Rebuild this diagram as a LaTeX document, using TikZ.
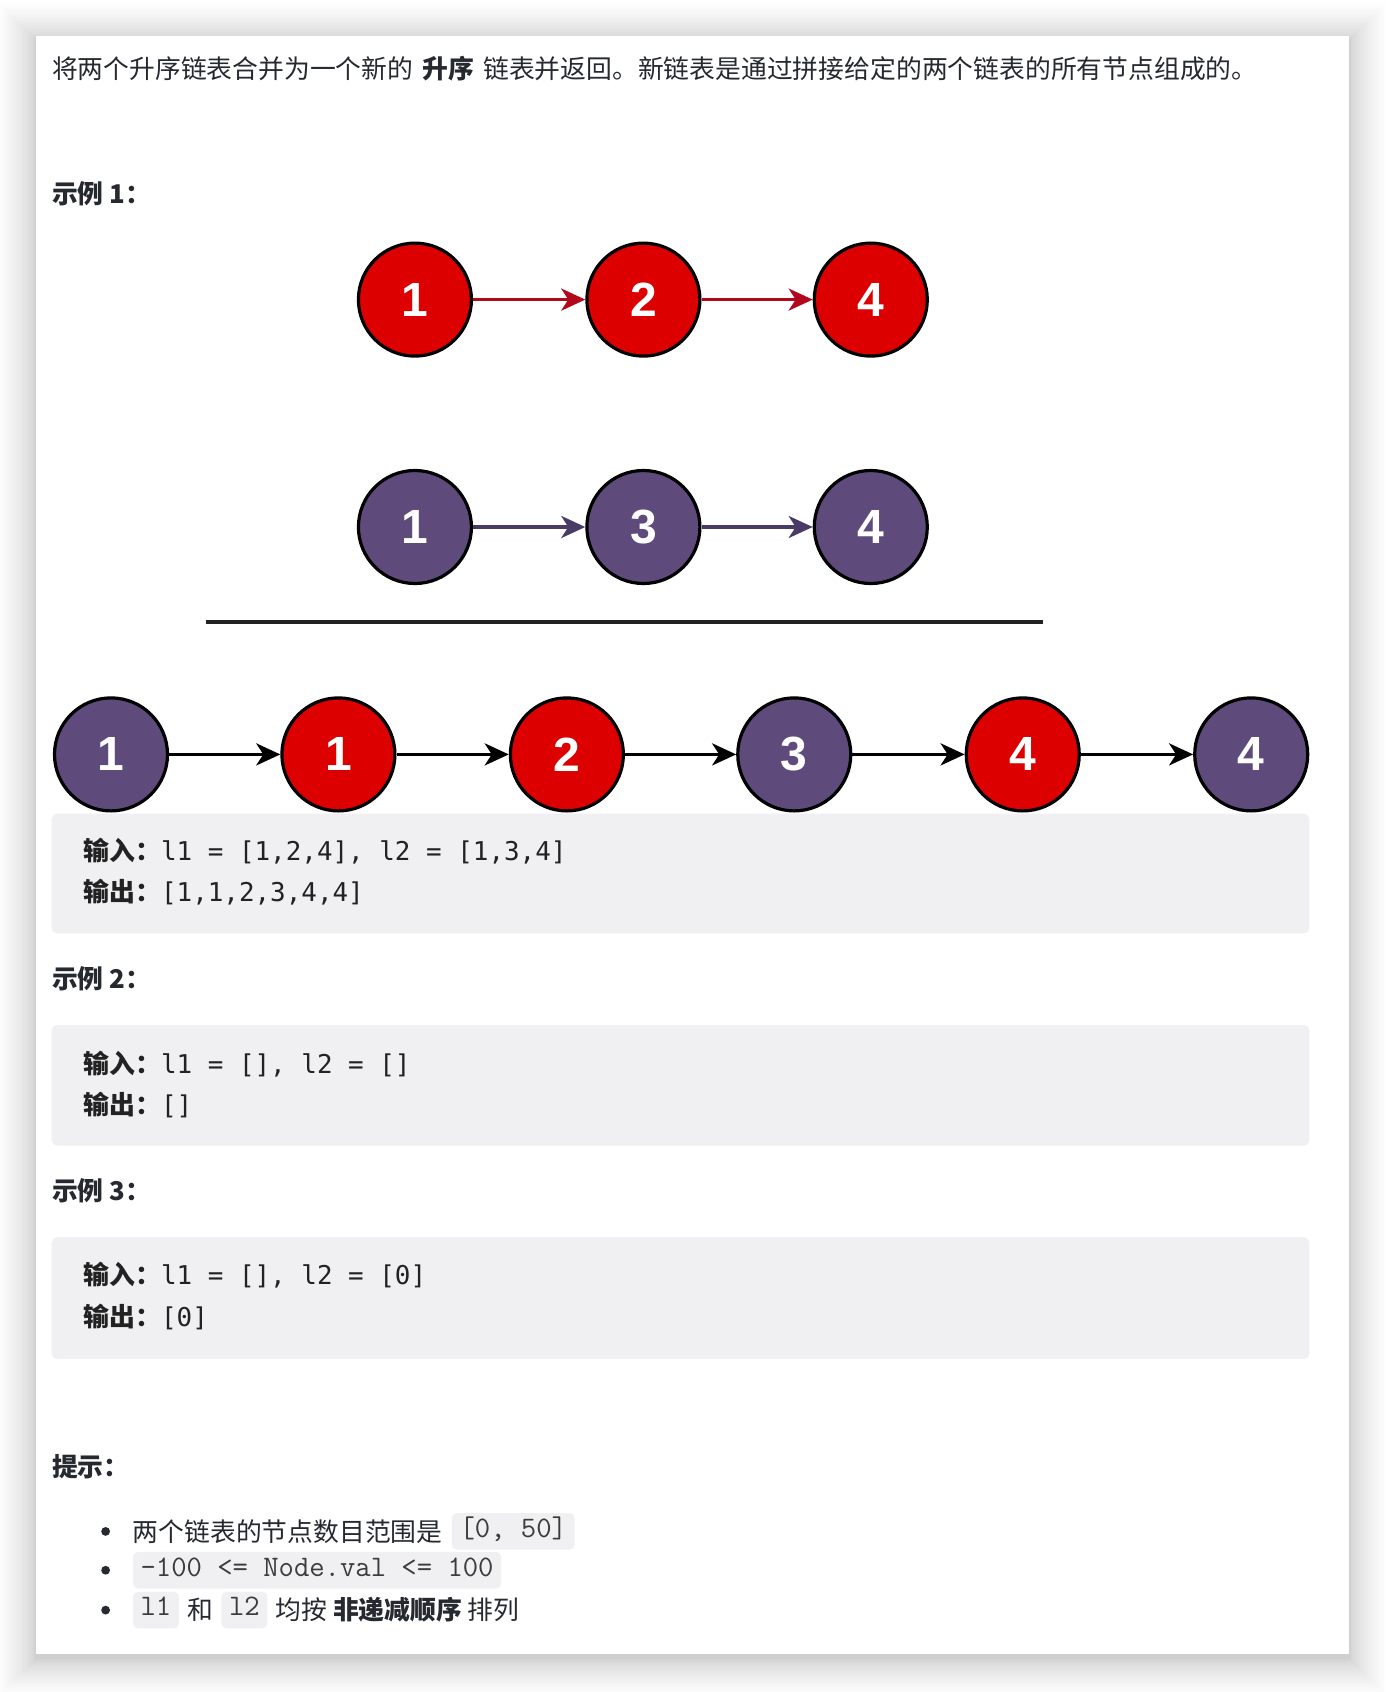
\documentclass[tikz,border=0pt]{standalone}
\usepackage{fontspec}
\setmainfont{Noto Sans CJK SC}
\newfontfamily\codefont{DejaVu Sans Mono}
\newfontfamily\numfont{Liberation Sans}
\usetikzlibrary{arrows.meta}
\definecolor{txt}{HTML}{262A30}
\definecolor{codetxt}{HTML}{222222}
\definecolor{icodetxt}{HTML}{3C3C3C}
\definecolor{codebg}{HTML}{F0F0F2}
\definecolor{nred}{HTML}{DD0000}
\definecolor{npur}{HTML}{5F4B7B}
\definecolor{ared}{HTML}{B3081B}
\definecolor{apur}{HTML}{4A3A66}
\definecolor{rule}{HTML}{222222}
\begin{document}
\begin{tikzpicture}[x=0.5388pt,y=-0.5388pt,
  body/.style={anchor=west, inner sep=0pt, text=txt, font=\fontsize{12.9pt}{15pt}\selectfont},
  head/.style={anchor=west, inner sep=0pt, text=txt, font=\fontsize{12.9pt}{15pt}\selectfont\bfseries},
  codetxt/.style={anchor=west, inner sep=0pt, text=codetxt, font=\fontsize{12.95pt}{15pt}\selectfont},
  icode/.style={anchor=west, fill=codebg, rounded corners=2.5pt, inner xsep=3.8pt, inner ysep=0pt,
    minimum height=18.3pt, text height=8.4pt, text depth=2.6pt, text=icodetxt,
    font=\ttfamily\fontsize{14.9pt}{16pt}\selectfont},
  lln/.style={circle, draw=black, line width=1.6pt, minimum size=56.5pt, inner sep=0pt, text=white,
    font=\numfont\bfseries\fontsize{24pt}{24pt}\selectfont},
  rn/.style={lln, fill=nred},
  pn/.style={lln, fill=npur},
  arr/.style={line width=1.7pt, -{Stealth[length=12pt,width=11pt,inset=3.5pt]}},
]
\useasboundingbox (0,0) rectangle (1288,1570);
\fill[white] (0,0) rectangle (1288,1570);
% soft shadow of the card
\foreach \i in {1,...,24} {
  \pgfmathsetmacro\dd{34*(\i/24)^1.6}
  \fill[black, opacity=0.009] ({33-\dd},{37-\dd}) rectangle ({1252+\dd},{1539+\dd});
}
\fill[white] (33,33) rectangle (1252,1535);

% intro
\node[body] (intro) at (48,64) {将两个升序链表合并为一个新的\hspace{4.6pt}\textbf{升序}\hspace{4.6pt}链表并返回。新链表是通过拼接给定的两个链表的所有节点组成的。};
\node[head] (ex1) at (48,180) {示例 1：};

% diagram
\begin{scope}
\clip (40,200) rectangle (1215,754);
\node[rn] (r1) at (385,278) {1};
\node[rn] (r2) at (597,278) {2};
\node[rn] (r3) at (808,278) {4};
\draw[arr, ared] (r1) -- (r2);
\draw[arr, ared] (r2) -- (r3);
\node[pn] (p1) at (385,489) {1};
\node[pn] (p2) at (597,489) {3};
\node[pn] (p3) at (808,489) {4};
\draw[arr, apur] (p1) -- (p2);
\draw[arr, apur] (p2) -- (p3);
\coordinate (ls) at (191,577);
\coordinate (le) at (968,577);
\draw[rule, line width=2.1pt] (ls) -- (le);
\node[pn] (m1) at (103,700) {1};
\node[rn] (m2) at (314,700) {1};
\node[rn] (m3) at (526,700) {2};
\node[pn] (m4) at (737,700) {3};
\node[rn] (m5) at (949,700) {4};
\node[pn] (m6) at (1161,700) {4};
\draw[arr] (m1) -- (m2);
\draw[arr] (m2) -- (m3);
\draw[arr] (m3) -- (m4);
\draw[arr] (m4) -- (m5);
\draw[arr] (m5) -- (m6);
\end{scope}

% code block 1
\fill[codebg, rounded corners=2.7pt] (48,755) rectangle (1215,866);
\node[codetxt] (c1a) at (77,790) {\textbf{输入：}{\codefont l1 = [1,2,4], l2 = [1,3,4]}};
\node[codetxt] (c1b) at (77,828) {\textbf{输出：}{\codefont [1,1,2,3,4,4]}};

\node[head] (ex2) at (48,908) {示例 2：};
\fill[codebg, rounded corners=2.7pt] (48,951) rectangle (1215,1063);
\node[codetxt] (c2a) at (77,987) {\textbf{输入：}{\codefont l1 = [], l2 = []}};
\node[codetxt] (c2b) at (77,1025) {\textbf{输出：}{\codefont []}};

\node[head] (ex3) at (48,1105) {示例 3：};
\fill[codebg, rounded corners=2.7pt] (48,1148) rectangle (1215,1261);
\node[codetxt] (c3a) at (77,1183) {\textbf{输入：}{\codefont l1 = [], l2 = [0]}};
\node[codetxt] (c3b) at (77,1222) {\textbf{输出：}{\codefont [0]}};

% hints
\node[head] (hint) at (48,1361) {提示：};
\fill[txt] (98,1421) circle[radius=2.2pt];
\fill[txt] (98,1457) circle[radius=2.2pt];
\fill[txt] (98,1494) circle[radius=2.2pt];
\node[body] (h1) at (123,1421) {两个链表的节点数目范围是};
\node[icode] (h1c) at (419,1421) {[0, 50]};
\node[icode] (h2c) at (123,1457) {-100 <= Node.val <= 100};
\node[icode] (h3a) at (123,1494) {l1};
\node[body] (h3b) at ([xshift=3.8pt]h3a.east) {和};
\node[icode] (h3c) at ([xshift=3.8pt]h3b.east) {l2};
\node[body] (h3d) at ([xshift=3.8pt]h3c.east) {均按 \textbf{非递减顺序} 排列};
\end{tikzpicture}
\end{document}
